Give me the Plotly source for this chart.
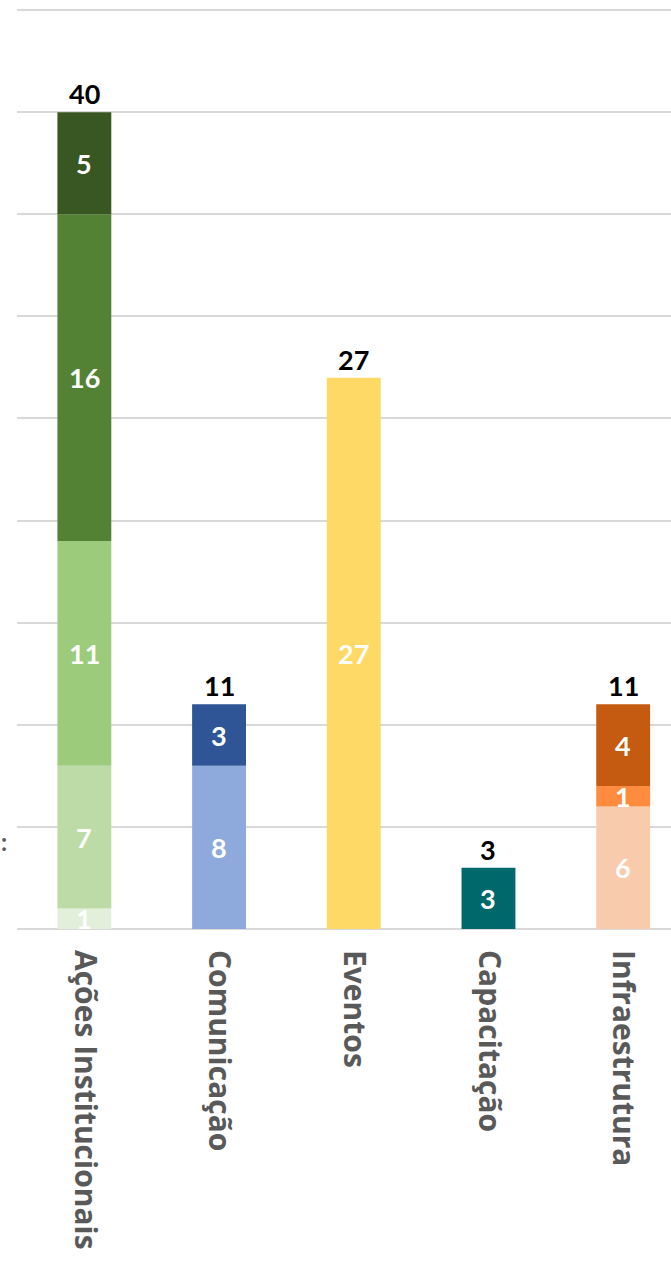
import plotly.graph_objects as go

categories = ["Ações Institucionais", "Comunicação", "Eventos", "Capacitação", "Infraestrutura"]

acoes_values = [1, 7, 11, 16, 5]
acoes_colors = ["#e2efda", "#bddba6", "#9dcb7c", "#548235", "#385723"]

comunicacao_values = [8, 3]
comunicacao_colors = ["#8eaadc", "#2f5597"]

eventos_values = [27]
eventos_colors = ["#ffd966"]

capacitacao_values = [3]
capacitacao_colors = ["#00686b"]

infra_values = [6, 1, 4]
infra_colors = ["#f8cbad", "#ff8b3f", "#c55a11"]

y_ticks = [0, 5, 10, 15, 20, 25, 30, 35, 40, 45]

series = [
    (categories[0], acoes_values, acoes_colors),
    (categories[1], comunicacao_values, comunicacao_colors),
    (categories[2], eventos_values, eventos_colors),
    (categories[3], capacitacao_values, capacitacao_colors),
    (categories[4], infra_values, infra_colors),
]

NUM_FONT = "Lato"
TICK_FONT = "Open Sans"
fig = go.Figure()
annotations = []

for cat, vals, cols in series:
    base = 0
    for v, c in zip(vals, cols):
        fig.add_trace(go.Bar(
            x=[cat], y=[v], base=[base], marker=dict(color=c, line=dict(width=0)),
            showlegend=False, hoverinfo="skip",
        ))
        annotations.append(dict(
            x=cat, y=base + v / 2, xref="x", yref="y", text=f"<b>{v}</b>",
            showarrow=False, font=dict(family=NUM_FONT, size=27, color="white"),
            yanchor="middle",
        ))
        base += v
    annotations.append(dict(
        x=cat, y=base, xref="x", yref="y", text=f"<b>{base}</b>",
        showarrow=False, font=dict(family=NUM_FONT, size=27, color="black"),
        yanchor="bottom", yshift=0,
    ))

# cut-off fragment at the left edge
annotations.append(dict(
    x=0, y=4.3, xref="paper", yref="y", xshift=-18, text="<b>:</b>",
    showarrow=False, font=dict(family=NUM_FONT, size=24, color="#595959"),
))

fig.update_layout(
    width=671, height=1261,
    margin=dict(l=17, r=0, t=8, b=332, autoexpand=False),
    paper_bgcolor="white", plot_bgcolor="white",
    barmode="overlay", bargap=0.6,
    annotations=annotations,
    xaxis=dict(
        type="category", categoryorder="array", categoryarray=categories,
        range=[-0.5, 4.355], tickangle=90, showgrid=False, showline=False,
        zeroline=False, ticks="", ticklabelstandoff=20, automargin=False,
        tickfont=dict(family=TICK_FONT, size=30, color="#595959", weight="bold"),
    ),
    yaxis=dict(
        range=[0, 45.1], tickvals=y_ticks, showticklabels=False,
        showgrid=True, gridcolor="#d9d9d9", gridwidth=2,
        zeroline=True, zerolinecolor="#d9d9d9", zerolinewidth=2,
        showline=False, fixedrange=True, automargin=False,
    ),
)

fig.write_html("out.html", config={"displayModeBar": False},
               post_script="document.body.style.margin='0px';")
